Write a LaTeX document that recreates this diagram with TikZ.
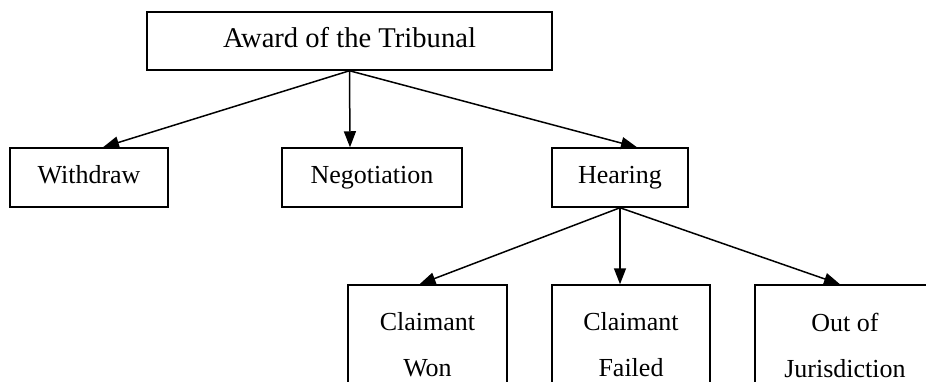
\documentclass[tikz,border=0pt]{standalone}
\usepackage{fontspec}
\setmainfont{Liberation Serif}
\usetikzlibrary{arrows.meta}

\tikzset{
    box/.style={draw, line width=1.5pt, inner sep=0pt, align=center,
        font=\fontsize{26}{46}\selectfont},
    onerow/.style={text height=18pt, text depth=5.5pt},
    arr/.style={line width=1.5pt, -{Triangle[length=16pt,width=12pt]}}
}

\begin{document}
\begin{tikzpicture}[x=1pt, y=-1pt]
    \clip (0,0) rectangle (926,381);

    \node[box, onerow, text height=19.5pt, text depth=6pt, minimum width=405pt, minimum height=58pt, font=\fontsize{28.6}{34}\selectfont] (award) at (349.5,41) {Award of the Tribunal};

    \node[box, onerow, minimum width=158pt, minimum height=59pt] (withdraw) at (89,177.5) {Withdraw};
    \node[box, onerow, minimum width=180pt, minimum height=59pt] (negotiation) at (372,177.5) {Negotiation};
    \node[box, onerow, minimum width=136pt, minimum height=59pt] (hearing) at (620,177.5) {Hearing};

    \node[box, minimum width=159pt, minimum height=120pt] (won) at (427.5,345) {Claimant\\Won};
    \node[box, minimum width=158pt, minimum height=120pt] (failed) at (631,345) {Claimant\\Failed};
    \node[box, minimum width=180pt, minimum height=120pt] (outof) at (845,345) {Out of\\Jurisdiction};

    \foreach \n/\s in {withdraw/14pt,negotiation/-22pt,hearing/17pt}
        \draw[arr] (award.south) -- ([xshift=\s]\n.north);
    \foreach \n/\s in {won/-8pt,failed/-11pt,outof/-5pt}
        \draw[arr] (hearing.south) -- ([xshift=\s]\n.north);

\end{tikzpicture}
\end{document}
